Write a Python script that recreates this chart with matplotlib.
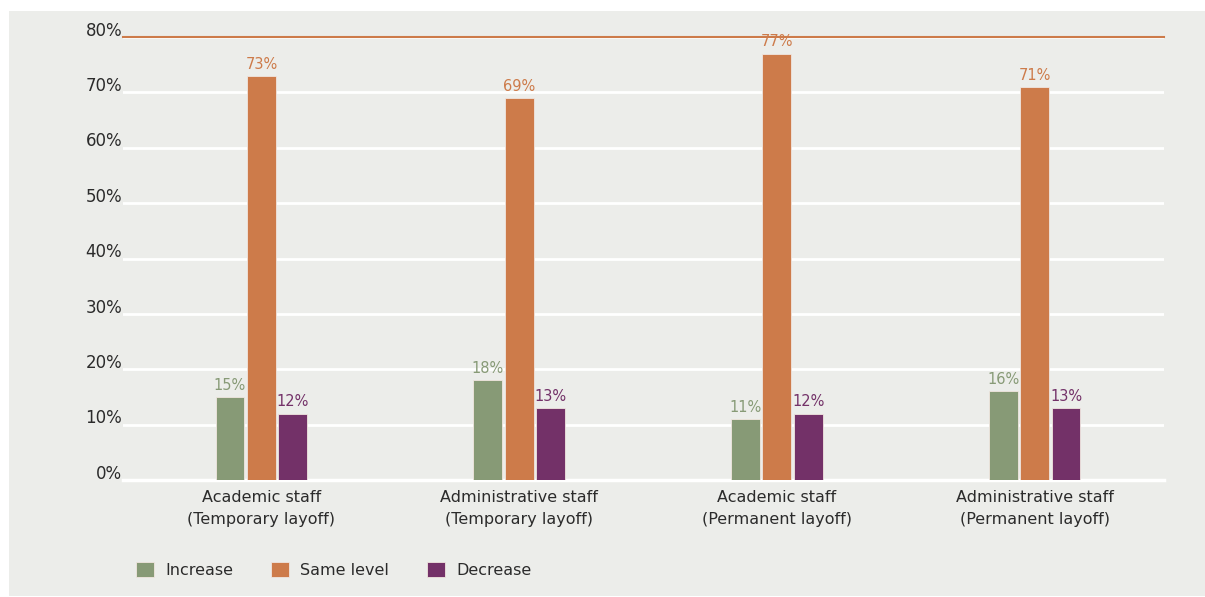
import matplotlib
matplotlib.use("Agg")
import matplotlib.pyplot as plt
import matplotlib.transforms as mtransforms
from matplotlib.patches import Rectangle
import numpy as np

categories = ["Academic staff\n(Temporary layoff)", "Administrative staff\n(Temporary layoff)",
              "Academic staff\n(Permanent layoff)", "Administrative staff\n(Permanent layoff)"]
series_names = ["Increase", "Same level", "Decrease"]
increase = [15, 18, 11, 16]
same_level = [73, 69, 77, 71]
decrease = [12, 13, 12, 13]
colors = ["#879A76", "#CD7B4A", "#733168"]
yticks = [0, 10, 20, 30, 40, 50, 60, 70, 80]

plt.rcParams['font.family'] = ['DejaVu Sans']
W, H = 1205, 597
fig = plt.figure(figsize=(W / 100, H / 100), dpi=100)
fig.patch.set_facecolor("white")
fig.patches.append(Rectangle((9 / W, 0.002), 1 - 9 / W, 1 - 11 / H - 0.002,
                             transform=fig.transFigure, facecolor="#ECEDEA",
                             edgecolor="none", zorder=-10))

left, right, top, bottom = 123, 1164, 37, 480
ax = fig.add_axes([left / W, 1 - bottom / H, (right - left) / W, (bottom - top) / H])
ax.set_facecolor("none")
ax.set_zorder(1)

x = np.arange(len(categories))
width = 0.112
step = 0.122
data = [increase, same_level, decrease]
for i, (vals, name, c) in enumerate(zip(data, series_names, colors)):
    pos = x + (i - 1) * step
    bars = ax.bar(pos, vals, width, color=c, label=name, zorder=3,
                  edgecolor="#F0E6E0", linewidth=0.6)
    for p, v in zip(pos, vals):
        ax.annotate(f"{v}%", (p, v), xytext=(0, 3), textcoords="offset points",
                    ha="center", va="bottom", fontsize=10.5, color=c, zorder=4)

ax.set_xlim(-0.537, 3.502)
ax.set_ylim(0, 80)
ax.set_yticks(yticks)
ax.set_yticklabels([f"{t}%" for t in yticks], fontsize=12, color="#2B2B2B")
ax.set_xticks(x)
ax.set_xticklabels(categories, fontsize=11.5, color="#2B2B2B", linespacing=1.6)
ax.tick_params(axis="both", length=0)
ax.tick_params(axis="y", pad=0.5)
ax.tick_params(axis="x", pad=7)
off = mtransforms.ScaledTranslation(0, 6 / 72, fig.dpi_scale_trans)
for lab in ax.get_yticklabels():
    lab.set_transform(lab.get_transform() + off)

ax.grid(axis="y", color="white", linewidth=2, zorder=1)
ax.grid(axis="x", visible=False)
for s in ["left", "right", "bottom"]:
    ax.spines[s].set_visible(False)
ax.spines["top"].set_color("#CD7B4A")
ax.spines["top"].set_linewidth(1.5)
ax.axhline(0, color="white", linewidth=2.5, zorder=2, clip_on=False)

leg = fig.legend(loc="lower left", bbox_to_anchor=(122 / W, 1 - 592 / H), ncol=3,
                 frameon=False, fontsize=11.5, handlelength=1.1, handleheight=1.1,
                 columnspacing=2.4, handletextpad=0.7)
for t in leg.get_texts():
    t.set_color("#2B2B2B")

fig.savefig("out.png", dpi=100, facecolor=fig.get_facecolor())
